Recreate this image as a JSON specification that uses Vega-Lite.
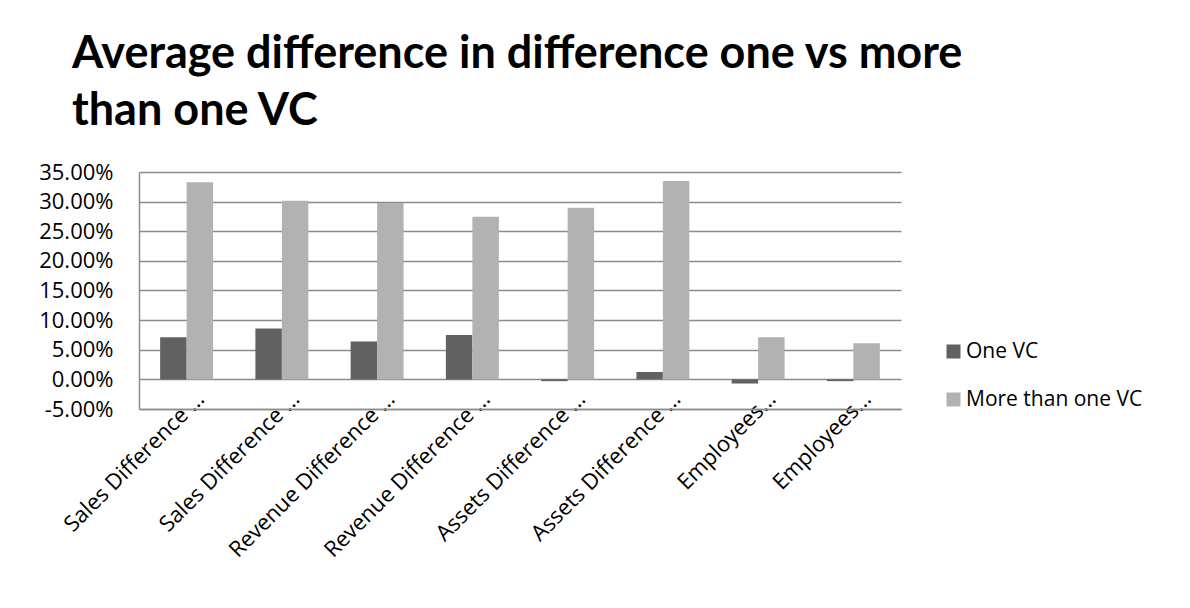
{
  "$schema": "https://vega.github.io/schema/vega-lite/v6.json",
  "width": 762,
  "height": 237,
  "autosize": {"type": "none"},
  "padding": {"left": 139, "top": 172, "right": 289, "bottom": 199},
  "background": "white",
  "title": {
    "text": ["Average difference in difference one vs more", "than one VC"],
    "anchor": "start",
    "frame": "group",
    "dx": -67,
    "font": "Lato",
    "fontSize": 45,
    "fontWeight": "bold",
    "color": "#000000",
    "lineHeight": 57,
    "offset": 27
  },
  "data": {
    "values": [
      {"key": "1|Sales Difference …", "series": "One VC", "value": 0.071},
      {"key": "1|Sales Difference …", "series": "More than one VC", "value": 0.3325},
      {"key": "2|Sales Difference …", "series": "One VC", "value": 0.086},
      {"key": "2|Sales Difference …", "series": "More than one VC", "value": 0.3015},
      {"key": "3|Revenue Difference …", "series": "One VC", "value": 0.064},
      {"key": "3|Revenue Difference …", "series": "More than one VC", "value": 0.2975},
      {"key": "4|Revenue Difference …", "series": "One VC", "value": 0.075},
      {"key": "4|Revenue Difference …", "series": "More than one VC", "value": 0.2745},
      {"key": "5|Assets Difference …", "series": "One VC", "value": -0.003},
      {"key": "5|Assets Difference …", "series": "More than one VC", "value": 0.2897},
      {"key": "6|Assets Difference …", "series": "One VC", "value": 0.0125},
      {"key": "6|Assets Difference …", "series": "More than one VC", "value": 0.335},
      {"key": "7|Employees…", "series": "One VC", "value": -0.007},
      {"key": "7|Employees…", "series": "More than one VC", "value": 0.071},
      {"key": "8|Employees…", "series": "One VC", "value": -0.003},
      {"key": "8|Employees…", "series": "More than one VC", "value": 0.061}
    ]
  },
  "mark": {"type": "bar"},
  "encoding": {
    "x": {
      "field": "key",
      "type": "nominal",
      "sort": null,
      "scale": {"paddingInner": 0.444, "paddingOuter": 0.222},
      "axis": {
        "title": null,
        "labelExpr": "split(datum.value, '|')[1]",
        "labelAngle": -45,
        "labelAlign": "right",
        "labelBaseline": "middle",
        "labelFont": "Open Sans",
        "labelFontSize": 22,
        "labelColor": "#000000",
        "labelLimit": 400,
        "labelPadding": -14,
        "labelOffset": 14,
        "ticks": false,
        "domainColor": "#8c8c8c",
        "domainWidth": 1.5
      }
    },
    "xOffset": {
      "field": "series",
      "type": "nominal",
      "sort": ["One VC", "More than one VC"],
      "scale": {"paddingInner": 0, "paddingOuter": 0}
    },
    "y": {
      "field": "value",
      "type": "quantitative",
      "scale": {"domain": [-0.05, 0.35], "nice": false, "zero": false},
      "axis": {
        "title": null,
        "values": [-0.05, 0, 0.05, 0.1, 0.15, 0.2, 0.25, 0.3, 0.35],
        "labelExpr": "replace(format(datum.value, '.2%'), '\u2212', '-')",
        "labelFont": "Open Sans",
        "labelFontSize": 22,
        "labelColor": "#000000",
        "labelPadding": 26,
        "ticks": false,
        "grid": true,
        "gridColor": "#8c8c8c",
        "gridWidth": 1.5,
        "domainColor": "#8c8c8c",
        "domainWidth": 1.5
      }
    },
    "color": {
      "field": "series",
      "type": "nominal",
      "scale": {"domain": ["One VC", "More than one VC"], "range": ["#616161", "#b2b2b2"]},
      "legend": {
        "title": null,
        "orient": "none",
        "legendX": 804,
        "legendY": 169,
        "symbolType": "square",
        "symbolSize": 196,
        "symbolStrokeWidth": 0,
        "labelFont": "Open Sans",
        "labelFontSize": 21,
        "labelColor": "#000000",
        "labelLimit": 400,
        "labelOffset": 2,
        "rowPadding": 26
      }
    }
  },
  "config": {
    "view": {"stroke": null}
  }
}
